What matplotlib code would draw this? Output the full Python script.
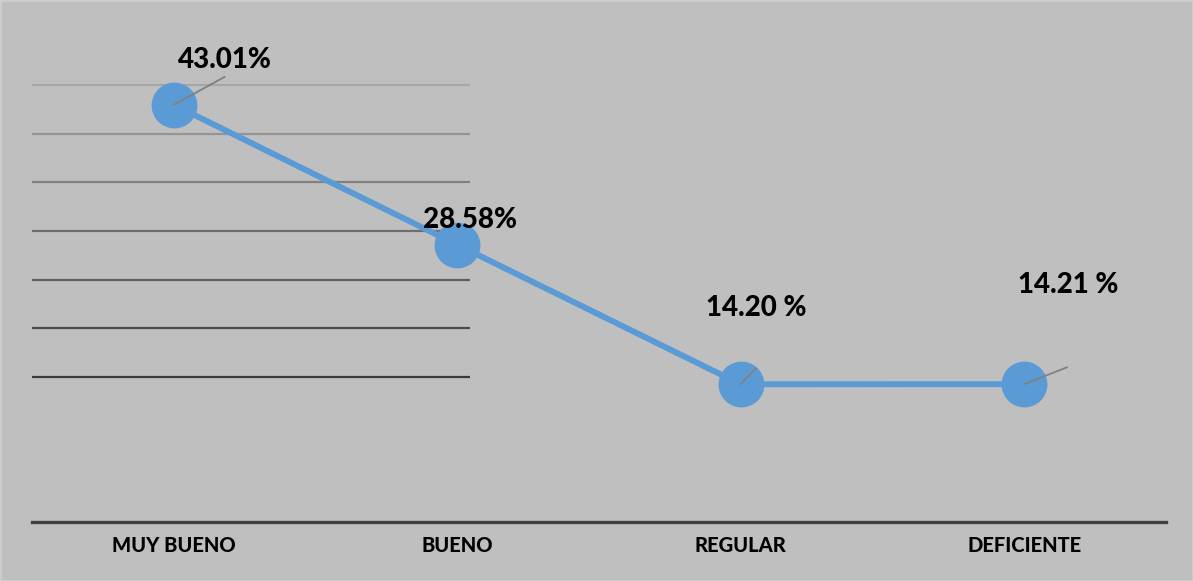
import matplotlib.pyplot as plt
from matplotlib.patches import Rectangle

# data
categories = ['MUY BUENO', 'BUENO', 'REGULAR', 'DEFICIENTE']
values = [43.01, 28.58, 14.20, 14.21]
labels = ['43.01%', '28.58%', '14.20 %', '14.21 %']
# label anchor offsets (pixels) relative to each point
label_dx = [51, 13, 16, 44]
label_dy = [47, 27, 78, 101]
leader_ends = [(51, 28), (0, 0), (15, 16), (43, 17)]

# gridlines only drawn on the left part, getting darker toward the bottom
grid_values = [45, 40, 35, 30, 25, 20, 15]
grid_colors = ['#a6a6a6', '#959595', '#808080', '#6e6e6e', '#5d5d5d', '#4a4a4a', '#3a3a3a']

bg = '#bfbfbf'
blue = '#5b9bd5'

fig = plt.figure(figsize=(11.93, 5.81), dpi=100, facecolor=bg)
fig.patches.append(Rectangle((0, 0), 1, 1, transform=fig.transFigure,
                             fill=False, edgecolor='#cdcdcd', linewidth=2))
ax = fig.add_axes([32 / 1193, 1 - 522 / 581, (1166 - 32) / 1193, (522 - 37) / 581])
ax.set_facecolor(bg)

x = list(range(len(categories)))
ax.set_xlim(-0.5, len(categories) - 0.5)
ax.set_ylim(0, 50)

# gridlines, covering about the first 1.55 categories
for gv, gc in zip(grid_values, grid_colors):
    ax.plot([-0.5, 1.045], [gv, gv], color=gc, linewidth=1.6, solid_capstyle='butt', zorder=1)

ax.plot(x, values, color=blue, linewidth=4.3, marker='o', markersize=32,
        markerfacecolor=blue, markeredgecolor=blue, zorder=3)

for i, (v, lab) in enumerate(zip(values, labels)):
    ex, ey = leader_ends[i]
    if ex or ey:
        ax.annotate('', xy=(i, v), xytext=(ex, ey), textcoords='offset pixels',
                    arrowprops=dict(arrowstyle='-', color='#808080', lw=1.3,
                                    shrinkA=0, shrinkB=0), zorder=4)
    ax.annotate(lab, xy=(i, v), xytext=(label_dx[i], label_dy[i] - 2), textcoords='offset pixels',
                ha='center', va='center', fontsize=20, fontweight='black',
                family=['Lato', 'DejaVu Sans'], color='black', zorder=5)

for s in ['top', 'right', 'left']:
    ax.spines[s].set_visible(False)
ax.spines['bottom'].set_color('#404040')
ax.spines['bottom'].set_linewidth(2.4)
ax.set_yticks([])
ax.set_xticks(x)
ax.set_xticklabels(categories, fontsize=14.5, fontweight='black', family=['Lato', 'DejaVu Sans'])
ax.tick_params(axis='x', length=0, pad=10)

fig.savefig('out.png', dpi=100, facecolor=bg)
